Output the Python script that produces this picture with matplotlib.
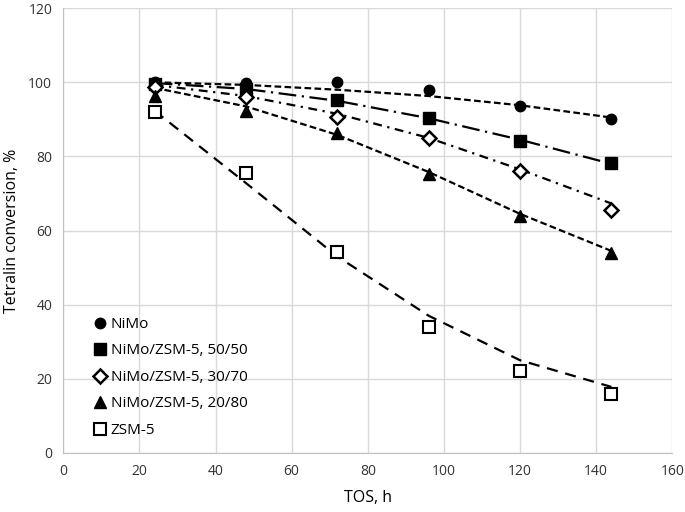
import matplotlib
matplotlib.use("Agg")
import matplotlib.pyplot as plt

plt.rcParams['font.family'] = ['Open Sans', 'DejaVu Sans']

tos = [24, 48, 72, 96, 120, 144]

# measured points
nimo = [100.0, 99.8, 100.0, 97.8, 93.5, 90.2]
nimo_50 = [99.6, 98.3, 95.2, 90.3, 84.2, 78.3]
nimo_30 = [98.8, 96.0, 90.7, 85.0, 76.0, 65.5]
nimo_20 = [96.2, 92.2, 86.2, 75.2, 64.0, 54.0]
zsm5 = [92.0, 75.6, 54.1, 34.0, 22.0, 16.0]

# trend lines
tr_nimo = [100.0, 99.3, 98.0, 96.3, 93.8, 90.5]
tr_50 = [99.8, 98.2, 95.0, 90.3, 84.5, 78.0]
tr_30 = [99.3, 96.3, 91.5, 85.0, 76.5, 67.3]
tr_20 = [98.5, 93.5, 85.8, 75.8, 64.5, 54.5]
tr_zsm = [92.3, 72.8, 53.0, 37.0, 25.0, 17.8]

labels = ["NiMo", "NiMo/ZSM-5, 50/50", "NiMo/ZSM-5, 30/70",
          "NiMo/ZSM-5, 20/80", "ZSM-5"]

fig = plt.figure(figsize=(6.85, 5.12), dpi=100)
ax = fig.add_axes([0.0924, 0.1155, 0.889, 0.8685])

lw = 1.6
ax.plot(tos, tr_nimo, color="black", lw=lw, dashes=(3, 1.5))
ax.plot(tos, tr_50, color="black", lw=lw, dashes=(8, 2.5, 1, 2.5))
ax.plot(tos, tr_30, color="black", lw=lw, dashes=(4, 2.5, 1, 2.5))
ax.plot(tos, tr_20, color="black", lw=lw, dashes=(3, 1.5))
ax.plot(tos, tr_zsm, color="black", lw=lw, dashes=(5, 3.5))

ax.plot(tos, nimo, "o", ms=7.5, color="black", label=labels[0], zorder=5)
ax.plot(tos, nimo_50, "s", ms=8, color="black", label=labels[1], zorder=5)
ax.plot(tos, nimo_30, "D", ms=7, mfc="white", mec="black", mew=1.8,
        label=labels[2], zorder=5)
ax.plot(tos, nimo_20, "^", ms=8.5, color="black", label=labels[3], zorder=5)
ax.plot(tos, zsm5, "s", ms=8, mfc="white", mec="black", mew=1.5,
        label=labels[4], zorder=5)

ax.set_xlim(0, 160)
ax.set_ylim(0, 120)
ax.set_xticks(range(0, 161, 20))
ax.set_yticks(range(0, 121, 20))
ax.grid(True, color="#d9d9d9", lw=1)
ax.set_axisbelow(True)
for s in ["top", "right"]:
    ax.spines[s].set_visible(False)
ax.spines["left"].set_color("#bfbfbf")
ax.spines["bottom"].set_color("#bfbfbf")
ax.tick_params(length=0, labelsize=10, colors="#333333", pad=8)

ax.set_xlabel("TOS, h", fontsize=11.5, labelpad=8)
ax.set_ylabel("Tetralin conversion, %", fontsize=11.5, labelpad=6)

ax.legend(loc="lower left", bbox_to_anchor=(0.035, 0.02), frameon=False,
          fontsize=11, handletextpad=0.1, handlelength=1.2,
          labelspacing=0.75, borderaxespad=0)

fig.savefig("out.png", dpi=100)
